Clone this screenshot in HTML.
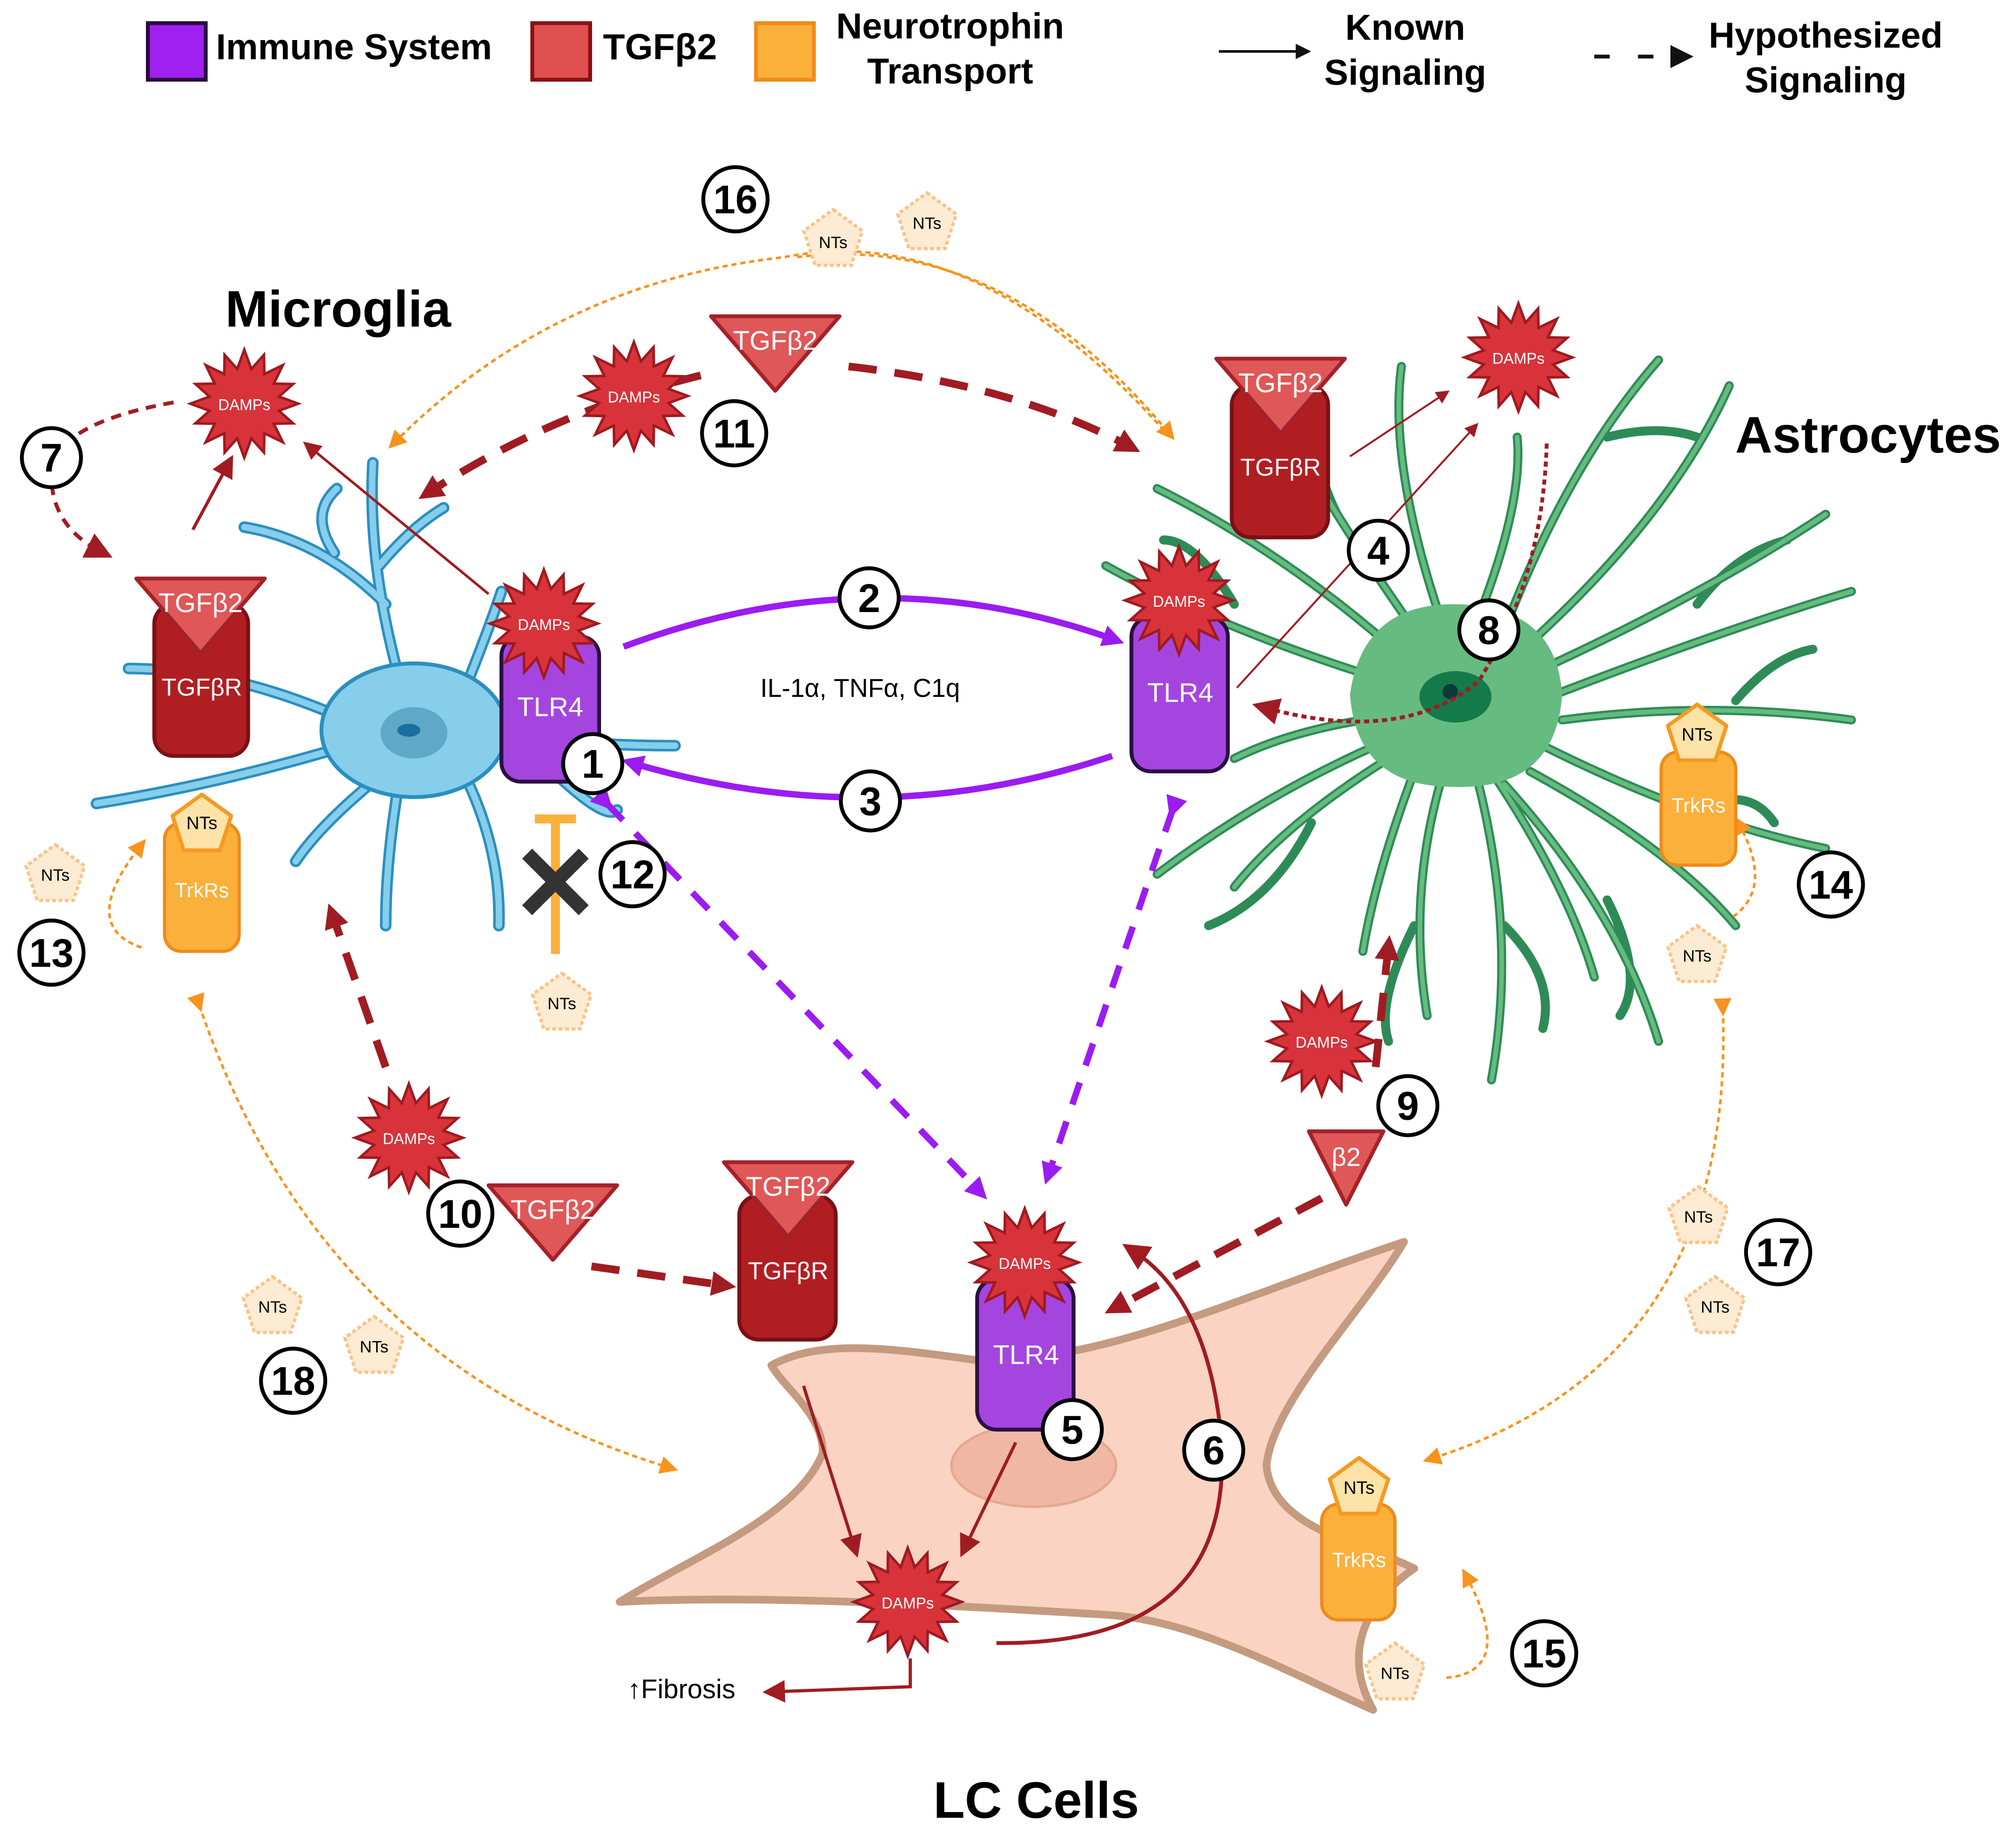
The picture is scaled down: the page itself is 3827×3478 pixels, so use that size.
<!DOCTYPE html>
<html><head><meta charset="utf-8"><style>
html,body{margin:0;padding:0;background:#fff}
svg{display:block}
text{font-family:"Liberation Sans",sans-serif}
</style></head><body>
<svg width="3827" height="3478" viewBox="0 0 1568 1425" preserveAspectRatio="none" xmlns="http://www.w3.org/2000/svg">
<defs>
<marker id="ar" viewBox="0 0 10 10" refX="6" refY="5" markerWidth="3.2" markerHeight="3.2" orient="auto"><path d="M0,0L10,5L0,10z" fill="#a01c22"/></marker>
<marker id="ars" viewBox="0 0 10 10" refX="6" refY="5" markerWidth="7" markerHeight="7" orient="auto"><path d="M0,0L10,5L0,10z" fill="#a01c22"/></marker>
<marker id="ap" viewBox="0 0 10 10" refX="6" refY="5" markerWidth="3.4" markerHeight="3.4" orient="auto"><path d="M0,0L10,5L0,10z" fill="#9b1cf0"/></marker>
<marker id="ao" viewBox="0 0 10 10" refX="6" refY="5" markerWidth="7" markerHeight="7" orient="auto"><path d="M0,0L10,5L0,10z" fill="#f7931e"/></marker>
<marker id="ak" viewBox="0 0 10 10" refX="6" refY="5" markerWidth="6" markerHeight="6" orient="auto"><path d="M0,0L10,5L0,10z" fill="#111"/></marker>
<g id="star"><polygon points="42,0 27,5.5 38,15.3 23,15.6 30,30 15.6,23 15.3,38 5.5,27 0,42 -5.5,27 -15.3,38 -15.6,23 -30,30 -23,15.6 -38,15.3 -27,5.5 -42,0 -27,-5.5 -38,-15.3 -23,-15.6 -30,-30 -15.6,-23 -15.3,-38 -5.5,-27 0,-42 5.5,-27 15.3,-38 15.6,-23 30,-30 23,-15.6 38,-15.3 27,-5.5" fill="#d8333a" stroke="#9e1a20" stroke-width="2"/></g>
<g id="pent"><polygon points="0,-24 22.8,-7.4 14.1,19.4 -14.1,19.4 -22.8,-7.4" fill="#fde3a7" stroke="#f59a23" stroke-width="3" stroke-linejoin="round"/></g>
<g id="pentd"><polygon points="0,-24 22.8,-7.4 14.1,19.4 -14.1,19.4 -22.8,-7.4" fill="#fdebd3" stroke="#f8c48a" stroke-width="2.5" stroke-dasharray="3,2" stroke-linejoin="round"/></g>
<g id="tri"><polygon points="-50,0 50,0 0,58" fill="#e05757" stroke="#a3222a" stroke-width="3" stroke-linejoin="round"/></g>
</defs>

<!-- Legend -->
<rect x="115" y="18" width="45" height="44" fill="#a020f0" stroke="#2a0a40" stroke-width="3"/>
<text x="168" y="46" font-size="28" font-weight="bold">Immune System</text>
<rect x="414" y="18" width="45" height="44" fill="#e05050" stroke="#8a1010" stroke-width="3"/>
<text x="469" y="46" font-size="28" font-weight="bold">TGFβ2</text>
<rect x="588" y="18" width="45" height="44" fill="#fbb03b" stroke="#f08a1c" stroke-width="3"/>
<text x="739" y="30" font-size="28" font-weight="bold" text-anchor="middle">Neurotrophin</text>
<text x="739" y="65" font-size="28" font-weight="bold" text-anchor="middle">Transport</text>
<line x1="948" y1="40" x2="1015" y2="40" stroke="#111" stroke-width="2" marker-end="url(#ak)"/>
<text x="1093" y="31" font-size="28" font-weight="bold" text-anchor="middle">Known</text>
<text x="1093" y="66" font-size="28" font-weight="bold" text-anchor="middle">Signaling</text>
<line x1="1240" y1="44" x2="1310" y2="44" stroke="#111" stroke-width="3" stroke-dasharray="12,22" marker-end="url(#ak)"/>
<text x="1420" y="37" font-size="28" font-weight="bold" text-anchor="middle">Hypothesized</text>
<text x="1420" y="72" font-size="28" font-weight="bold" text-anchor="middle">Signaling</text>

<text x="263" y="254" font-size="40" font-weight="bold" text-anchor="middle">Microglia</text>
<text x="1453" y="352" font-size="40" font-weight="bold" text-anchor="middle">Astrocytes</text>
<text x="806" y="1414" font-size="40" font-weight="bold" text-anchor="middle">LC Cells</text>

<!-- LC cell -->
<path d="M600,1062 C640,1040 700,1050 760,1058 C860,1060 960,1010 1092,966 C1060,1020 990,1090 985,1140 C990,1190 1060,1200 1100,1220 C1070,1240 1040,1280 1068,1330 C1000,1300 930,1260 860,1256 C760,1250 600,1240 482,1246 C540,1210 620,1180 640,1130 C640,1100 610,1080 600,1062 Z" fill="#fad3c2" stroke="#c49a80" stroke-width="6" stroke-linejoin="round"/>
<ellipse cx="804" cy="1140" rx="64" ry="32" fill="#f0b8a4" stroke="#e6a890" stroke-width="2"/>

<!-- Microglia -->
<g fill="none" stroke-linecap="round">
<g stroke="#2a8fc0" stroke-width="9">
<path d="M320,560 Q285,450 290,360"/><path d="M300,470 Q250,420 190,410"/><path d="M295,440 Q320,410 345,395"/><path d="M270,560 Q180,520 100,520"/><path d="M270,580 Q170,610 75,625"/><path d="M300,600 Q250,640 230,670"/><path d="M310,610 Q300,670 300,720"/><path d="M360,600 Q390,660 388,720"/><path d="M370,570 Q450,580 525,580"/><path d="M360,540 Q380,490 390,460"/><path d="M420,590 Q470,640 480,630"/><path d="M260,430 Q240,400 262,380"/><path d="M180,520 Q160,550 130,565"/>
</g>
<g stroke="#87ceeb" stroke-width="5">
<path d="M320,560 Q285,450 290,360"/><path d="M300,470 Q250,420 190,410"/><path d="M295,440 Q320,410 345,395"/><path d="M270,560 Q180,520 100,520"/><path d="M270,580 Q170,610 75,625"/><path d="M300,600 Q250,640 230,670"/><path d="M310,610 Q300,670 300,720"/><path d="M360,600 Q390,660 388,720"/><path d="M370,570 Q450,580 525,580"/><path d="M360,540 Q380,490 390,460"/><path d="M420,590 Q470,640 480,630"/><path d="M260,430 Q240,400 262,380"/><path d="M180,520 Q160,550 130,565"/>
</g></g>
<ellipse cx="322" cy="568" rx="72" ry="52" fill="#87ceeb" stroke="#2a8fc0" stroke-width="3"/>
<ellipse cx="322" cy="570" rx="26" ry="20" fill="#5fa8c8"/>
<ellipse cx="318" cy="568" rx="9" ry="5" fill="#1a6fa0"/>

<!-- Astrocyte -->
<g fill="none" stroke-linecap="round">
<g stroke="#2e8b57" stroke-width="7">
<path d="M1080,530 Q950,490 860,440"/><path d="M1090,510 Q1000,430 900,380"/><path d="M1100,490 Q1030,390 1000,330"/><path d="M1120,480 Q1080,360 1090,285"/><path d="M1150,480 Q1185,390 1180,340"/><path d="M1170,490 Q1220,360 1290,280"/><path d="M1190,500 Q1300,400 1345,300"/><path d="M1200,520 Q1330,460 1420,400"/><path d="M1210,540 Q1340,490 1440,460"/><path d="M1215,560 Q1330,545 1440,560"/><path d="M1200,580 Q1320,640 1420,660"/><path d="M1190,600 Q1300,660 1350,720"/><path d="M1170,610 Q1260,710 1290,810"/><path d="M1150,610 Q1180,730 1160,840"/><path d="M1120,610 Q1095,700 1110,790"/><path d="M1100,600 Q1070,680 1060,740"/><path d="M1080,590 Q1000,640 960,690"/><path d="M1070,580 Q980,620 900,680"/><path d="M1060,560 Q1000,570 960,590"/><path d="M1160,600 Q1220,690 1240,760"/>
<path d="M960,470 Q930,420 905,420"/><path d="M1040,400 Q1020,360 1030,340"/><path d="M1250,340 Q1290,330 1320,340"/><path d="M1320,470 Q1350,430 1390,420"/><path d="M1350,545 Q1380,510 1410,505"/><path d="M1320,630 Q1360,610 1380,640"/><path d="M1250,700 Q1280,760 1260,790"/><path d="M1020,640 Q990,700 940,720"/><path d="M1170,720 Q1210,760 1200,800"/><path d="M1100,720 Q1070,780 1080,810"/>
</g>
<g stroke="#66bb80" stroke-width="3.5">
<path d="M1080,530 Q950,490 860,440"/><path d="M1090,510 Q1000,430 900,380"/><path d="M1100,490 Q1030,390 1000,330"/><path d="M1120,480 Q1080,360 1090,285"/><path d="M1150,480 Q1185,390 1180,340"/><path d="M1170,490 Q1220,360 1290,280"/><path d="M1190,500 Q1300,400 1345,300"/><path d="M1200,520 Q1330,460 1420,400"/><path d="M1210,540 Q1340,490 1440,460"/><path d="M1215,560 Q1330,545 1440,560"/><path d="M1200,580 Q1320,640 1420,660"/><path d="M1190,600 Q1300,660 1350,720"/><path d="M1170,610 Q1260,710 1290,810"/><path d="M1150,610 Q1180,730 1160,840"/><path d="M1120,610 Q1095,700 1110,790"/><path d="M1100,600 Q1070,680 1060,740"/><path d="M1080,590 Q1000,640 960,690"/><path d="M1070,580 Q980,620 900,680"/><path d="M1060,560 Q1000,570 960,590"/><path d="M1160,600 Q1220,690 1240,760"/>
</g></g>
<path d="M1050,540 Q1060,470 1130,470 Q1210,470 1215,540 Q1210,615 1130,612 Q1055,612 1050,540Z" fill="#66bb80"/>
<ellipse cx="1132" cy="542" rx="28" ry="20" fill="#157a4a"/>
<circle cx="1128" cy="538" r="6" fill="#0a3a3a"/>

<!-- Orange dotted arrows -->
<g fill="none" stroke="#f7931e" stroke-width="2" stroke-dasharray="4,3">
<path d="M910,340 Q760,170 610,200 Q430,220 306,345" marker-end="url(#ao)"/>
<path d="M620,200 Q780,180 910,338" marker-end="url(#ao)"/>
<path d="M155,782 Q250,1060 522,1142" marker-end="url(#ao)" marker-start="url(#ao)"/>
<path d="M1340,785 Q1350,1060 1112,1135" marker-end="url(#ao)" marker-start="url(#ao)"/>
<path d="M110,737 Q60,720 110,657" marker-end="url(#ao)"/>
<path d="M1348,713 Q1380,690 1352,640" marker-end="url(#ao)"/>
<path d="M1125,1305 Q1180,1300 1140,1225" marker-end="url(#ao)"/>
</g>

<!-- Purple arrows -->
<path d="M485,503 Q680,430 868,498" fill="none" stroke="#9b1cf0" stroke-width="5" marker-end="url(#ap)"/>
<path d="M865,588 Q680,650 490,593" fill="none" stroke="#9b1cf0" stroke-width="5" marker-end="url(#ap)"/>
<line x1="472" y1="625" x2="763" y2="928" stroke="#9b1cf0" stroke-width="5" stroke-dasharray="18,14" marker-end="url(#ap)" marker-start="url(#ap)"/>
<line x1="912" y1="630" x2="815" y2="915" stroke="#9b1cf0" stroke-width="5" stroke-dasharray="18,14" marker-end="url(#ap)" marker-start="url(#ap)"/>
<text x="669" y="542" font-size="20" text-anchor="middle">IL-1α, TNFα, C1q</text>

<!-- Dark red arrows -->
<g fill="none" stroke="#a01c22">
<path d="M545,292 Q430,320 332,384" stroke-width="6" stroke-dasharray="22,14" marker-end="url(#ar)"/>
<path d="M660,285 Q790,300 880,348" stroke-width="6" stroke-dasharray="22,14" marker-end="url(#ar)"/>
<path d="M135,313 Q40,330 40,370 Q40,410 80,430" stroke-width="3" stroke-dasharray="8,6" marker-end="url(#ars)"/>
<path d="M300,830 L258,710" stroke-width="6" stroke-dasharray="22,14" marker-end="url(#ar)"/>
<path d="M460,985 L565,1000" stroke-width="6" stroke-dasharray="22,14" marker-end="url(#ar)"/>
<path d="M1070,830 L1080,735" stroke-width="6" stroke-dasharray="22,14" marker-end="url(#ar)"/>
<path d="M1028,932 L866,1018" stroke-width="6" stroke-dasharray="22,14" marker-end="url(#ar)"/>
<path d="M1203,345 Q1200,450 1150,530 Q1090,580 982,550" stroke-width="3" stroke-dasharray="4,3" marker-end="url(#ars)"/>
<path d="M150,412 L178,360" stroke-width="2.5" marker-end="url(#ars)"/>
<path d="M380,462 L240,347" stroke-width="2" marker-end="url(#ars)"/>
<path d="M962,535 L1147,332" stroke-width="1.5" marker-end="url(#ars)"/>
<path d="M1050,355 L1124,306" stroke-width="1.5" marker-end="url(#ars)"/>
<path d="M775,1278 Q960,1280 950,1120 Q940,1010 880,972" stroke-width="3" marker-end="url(#ars)"/>
<path d="M625,1078 L665,1205" stroke-width="2.5" marker-end="url(#ars)"/>
<path d="M790,1122 L750,1205" stroke-width="2.5" marker-end="url(#ars)"/>
<path d="M708,1290 L708,1312 L600,1316" stroke-width="2.5" marker-end="url(#ars)"/>
</g>
<text x="488" y="1321" font-size="21">↑Fibrosis</text>

<!-- Orange T inhibition + X -->
<line x1="432" y1="640" x2="432" y2="742" stroke="#fbb03b" stroke-width="7"/>
<line x1="416" y1="637" x2="448" y2="637" stroke="#fbb03b" stroke-width="7"/>
<path d="M410,664 L454,708 M454,664 L410,708" stroke="#333" stroke-width="11"/>

<!-- Receptors: microglia -->
<rect x="120" y="470" width="73" height="118" rx="15" fill="#b01e22" stroke="#7a1015" stroke-width="3"/>
<use href="#tri" transform="translate(156,450)"/>
<text x="156" y="476" font-size="21" fill="#fff" text-anchor="middle">TGFβ2</text>
<text x="157" y="541" font-size="19" fill="#fff" text-anchor="middle">TGFβR</text>
<rect x="390" y="495" width="76" height="113" rx="15" fill="#a545e0" stroke="#2a1040" stroke-width="3"/>
<text x="428" y="557" font-size="21" fill="#fff" text-anchor="middle">TLR4</text>
<use href="#star" transform="translate(423,485)"/>
<text x="423" y="490" font-size="12" fill="#fff" text-anchor="middle">DAMPs</text>
<rect x="128" y="640" width="58" height="100" rx="13" fill="#fbb03b" stroke="#f08a1c" stroke-width="2.5"/>
<text x="157" y="698" font-size="16" fill="#fff" text-anchor="middle">TrkRs</text>
<use href="#pent" transform="translate(157,642)"/>
<text x="157" y="645" font-size="14" text-anchor="middle">NTs</text>

<!-- Receptors: astrocyte -->
<rect x="958" y="300" width="75" height="118" rx="15" fill="#b01e22" stroke="#7a1015" stroke-width="3"/>
<use href="#tri" transform="translate(996,279)"/>
<text x="996" y="305" font-size="21" fill="#fff" text-anchor="middle">TGFβ2</text>
<text x="996" y="370" font-size="19" fill="#fff" text-anchor="middle">TGFβR</text>
<rect x="880" y="480" width="75" height="120" rx="15" fill="#a545e0" stroke="#2a1040" stroke-width="3"/>
<text x="918" y="546" font-size="21" fill="#fff" text-anchor="middle">TLR4</text>
<use href="#star" transform="translate(917,467)"/>
<text x="917" y="472" font-size="12" fill="#fff" text-anchor="middle">DAMPs</text>
<rect x="1292" y="585" width="58" height="88" rx="13" fill="#fbb03b" stroke="#f08a1c" stroke-width="2.5"/>
<text x="1321" y="632" font-size="16" fill="#fff" text-anchor="middle">TrkRs</text>
<use href="#pent" transform="translate(1320,572)"/>
<text x="1320" y="576" font-size="14" text-anchor="middle">NTs</text>

<!-- Receptors: LC -->
<rect x="575" y="930" width="75" height="112" rx="15" fill="#b01e22" stroke="#7a1015" stroke-width="3"/>
<use href="#tri" transform="translate(613,904)"/>
<text x="613" y="930" font-size="21" fill="#fff" text-anchor="middle">TGFβ2</text>
<text x="613" y="995" font-size="19" fill="#fff" text-anchor="middle">TGFβR</text>
<rect x="760" y="995" width="75" height="117" rx="15" fill="#a545e0" stroke="#2a1040" stroke-width="3"/>
<text x="798" y="1061" font-size="21" fill="#fff" text-anchor="middle">TLR4</text>
<use href="#star" transform="translate(797,982)"/>
<text x="797" y="987" font-size="12" fill="#fff" text-anchor="middle">DAMPs</text>
<rect x="1028" y="1170" width="57" height="90" rx="13" fill="#fbb03b" stroke="#f08a1c" stroke-width="2.5"/>
<text x="1057" y="1219" font-size="16" fill="#fff" text-anchor="middle">TrkRs</text>
<use href="#pent" transform="translate(1057,1158)"/>
<text x="1057" y="1162" font-size="14" text-anchor="middle">NTs</text>

<!-- Free DAMPs -->
<use href="#star" transform="translate(190,314)"/><text x="190" y="319" font-size="12" fill="#fff" text-anchor="middle">DAMPs</text>
<use href="#star" transform="translate(493,308)"/><text x="493" y="313" font-size="12" fill="#fff" text-anchor="middle">DAMPs</text>
<use href="#star" transform="translate(1181,278)"/><text x="1181" y="283" font-size="12" fill="#fff" text-anchor="middle">DAMPs</text>
<use href="#star" transform="translate(1028,810)"/><text x="1028" y="815" font-size="12" fill="#fff" text-anchor="middle">DAMPs</text>
<use href="#star" transform="translate(318,885)"/><text x="318" y="890" font-size="12" fill="#fff" text-anchor="middle">DAMPs</text>
<use href="#star" transform="translate(706,1246)"/><text x="706" y="1251" font-size="12" fill="#fff" text-anchor="middle">DAMPs</text>

<!-- Free TGFβ2 -->
<use href="#tri" transform="translate(603,246)"/><text x="603" y="272" font-size="21" fill="#fff" text-anchor="middle">TGFβ2</text>
<use href="#tri" transform="translate(430,922)"/><text x="430" y="948" font-size="21" fill="#fff" text-anchor="middle">TGFβ2</text>
<polygon points="1018,880 1076,880 1047,937" fill="#e05757" stroke="#a3222a" stroke-width="3" stroke-linejoin="round"/>
<text x="1047" y="907" font-size="20" fill="#fff" text-anchor="middle">β2</text>

<!-- Free NTs -->
<g font-size="13" text-anchor="middle">
<use href="#pentd" transform="translate(648,187)"/><text x="648" y="193">NTs</text>
<use href="#pentd" transform="translate(721,174)"/><text x="721" y="178">NTs</text>
<use href="#pentd" transform="translate(43,681)"/><text x="43" y="685">NTs</text>
<use href="#pentd" transform="translate(437,781)"/><text x="437" y="785">NTs</text>
<use href="#pentd" transform="translate(1320,744)"/><text x="1320" y="748">NTs</text>
<use href="#pentd" transform="translate(212,1017)"/><text x="212" y="1021">NTs</text>
<use href="#pentd" transform="translate(291,1048)"/><text x="291" y="1052">NTs</text>
<use href="#pentd" transform="translate(1321,947)"/><text x="1321" y="951">NTs</text>
<use href="#pentd" transform="translate(1334,1017)"/><text x="1334" y="1021">NTs</text>
<use href="#pentd" transform="translate(1085,1302)"/><text x="1085" y="1306">NTs</text>
</g>

<!-- Numbers -->
<g fill="#fff" stroke="#000" stroke-width="3">
<circle cx="461" cy="594" r="23"/><circle cx="676" cy="465" r="23"/><circle cx="677" cy="623" r="23"/><circle cx="1072" cy="428" r="23"/><circle cx="834" cy="1112" r="23"/><circle cx="944" cy="1128" r="23"/><circle cx="40" cy="356" r="23"/><circle cx="1158" cy="490" r="23"/><circle cx="1095" cy="860" r="23"/><circle cx="358" cy="944" r="25"/><circle cx="571" cy="337" r="25"/><circle cx="492" cy="680" r="25"/><circle cx="40" cy="741" r="25"/><circle cx="1424" cy="688" r="25"/><circle cx="1201" cy="1286" r="25"/><circle cx="572" cy="155" r="25"/><circle cx="1383" cy="974" r="25"/><circle cx="228" cy="1074" r="25"/>
</g>
<g font-size="31" font-weight="bold" text-anchor="middle">
<text x="461" y="605">1</text><text x="676" y="476">2</text><text x="677" y="634">3</text><text x="1072" y="439">4</text><text x="834" y="1123">5</text><text x="944" y="1139">6</text><text x="40" y="367">7</text><text x="1158" y="501">8</text><text x="1095" y="871">9</text><text x="358" y="955">10</text><text x="571" y="348">11</text><text x="492" y="691">12</text><text x="40" y="752">13</text><text x="1424" y="699">14</text><text x="1201" y="1297">15</text><text x="572" y="166">16</text><text x="1383" y="985">17</text><text x="228" y="1085">18</text>
</g>
</svg>
</body></html>
